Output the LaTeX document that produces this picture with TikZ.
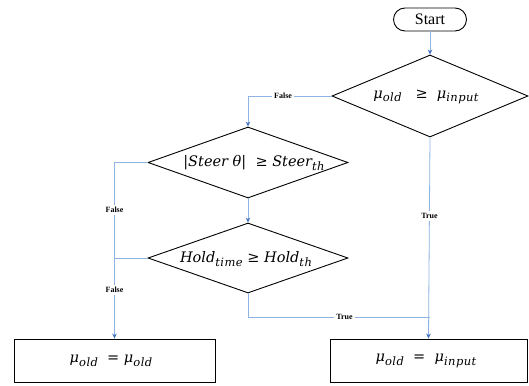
\documentclass[tikz,border=0pt]{standalone}
\usepackage{fontspec}
\setmainfont{Liberation Serif}
\newfontfamily\formulafont{DejaVu Serif}
\usetikzlibrary{shapes.geometric,shapes.misc,arrows.meta}
\definecolor{linkblue}{HTML}{8EB4E3}
\definecolor{tipblue}{HTML}{4472C4}
% lowered, slightly spaced subscript for the formula texts
\newcommand{\fsub}[1]{\raisebox{-3.5pt}{\fontsize{11.5}{12}\selectfont\addfontfeature{LetterSpace=4}#1}}
\begin{document}
\begin{tikzpicture}[x=1pt,y=-1pt,
  decision/.style={diamond,draw=black,line width=0.9pt,minimum width=#1,minimum height=71pt,inner sep=0pt},
  terminal/.style={rounded rectangle,draw=black,line width=0.9pt,minimum width=73pt,minimum height=23pt,inner sep=0pt,font=\fontsize{16}{18}\selectfont},
  process/.style={rectangle,draw=black,line width=0.9pt,minimum width=201pt,minimum height=43pt,inner sep=0pt},
  mtext/.style={inner sep=0pt,font=\formulafont\itshape\fontsize{14.5}{16}\selectfont},
  link/.style={draw=linkblue,line width=0.8pt},
  arrowlink/.style={link,-{Stealth[length=5pt,width=4.5pt,color=tipblue]}},
  tag/.style={fill=white,inner sep=2pt,font=\bfseries\fontsize{8}{9}\selectfont}
]
\useasboundingbox[fill=white] (0,0) rectangle (529,385);

% shapes
\node[terminal] (start) at (430,19.5) {Start};
\node[decision=196pt,minimum height=82pt] (d1) at (430,96) {};
\node[mtext] (t1) at (426,97) {μ\fsub{old} \ \ {\upshape ≥} \ μ\fsub{input}};
\node[decision=200pt] (d2) at (248,162.5) {};
\node[mtext] (t2) at (254,163) {{\upshape|}Steer θ{\upshape|} \ {\upshape ≥} Steer\fsub{th}};
\node[decision=200pt,minimum height=70pt] (d3) at (248,258) {};
\node[mtext] (t3) at (246,259) {Hold\fsub{time} {\upshape ≥} Hold\fsub{th}};
\node[process] (b1) at (114.5,360.5) {};
\node[mtext] (t4) at (111,361) {μ\fsub{old} \ {\upshape =} μ\fsub{old}};
\node[process,minimum width=197pt] (b2) at (428.5,360.5) {};
\node[mtext] (t5) at (426,361) {μ\fsub{old} \ {\upshape =} \ μ\fsub{input}};

% junction points
\coordinate (c1) at (248,96);
\coordinate (c2) at (114.5,162.5);
\coordinate (c3) at (114.5,258);
\coordinate (c4) at (248,317);
\coordinate (c5) at (430,317);

% connectors
\draw[arrowlink] (start.south) -- (d1.north);
\draw[arrowlink] (d1.west) -- node[tag,pos=0.58] (f1) {False} (c1) -- (d2.north);
\draw[arrowlink] (d2.south) -- (d3.north);
\draw[arrowlink] (d2.west) -- (c2) -- node[tag,pos=0.5] (f2) {False} (c3) -- node[tag,pos=0.4] (f3) {False} (b1.north);
\draw[link] (d3.west) -- (c3);
\draw[arrowlink] (d1.south) -- node[tag,pos=0.39] (tr1) {True} (b2.north);
\draw[link] (d3.south) -- (c4) -- node[tag,pos=0.53] (tr2) {True} (c5);
\end{tikzpicture}
\end{document}
